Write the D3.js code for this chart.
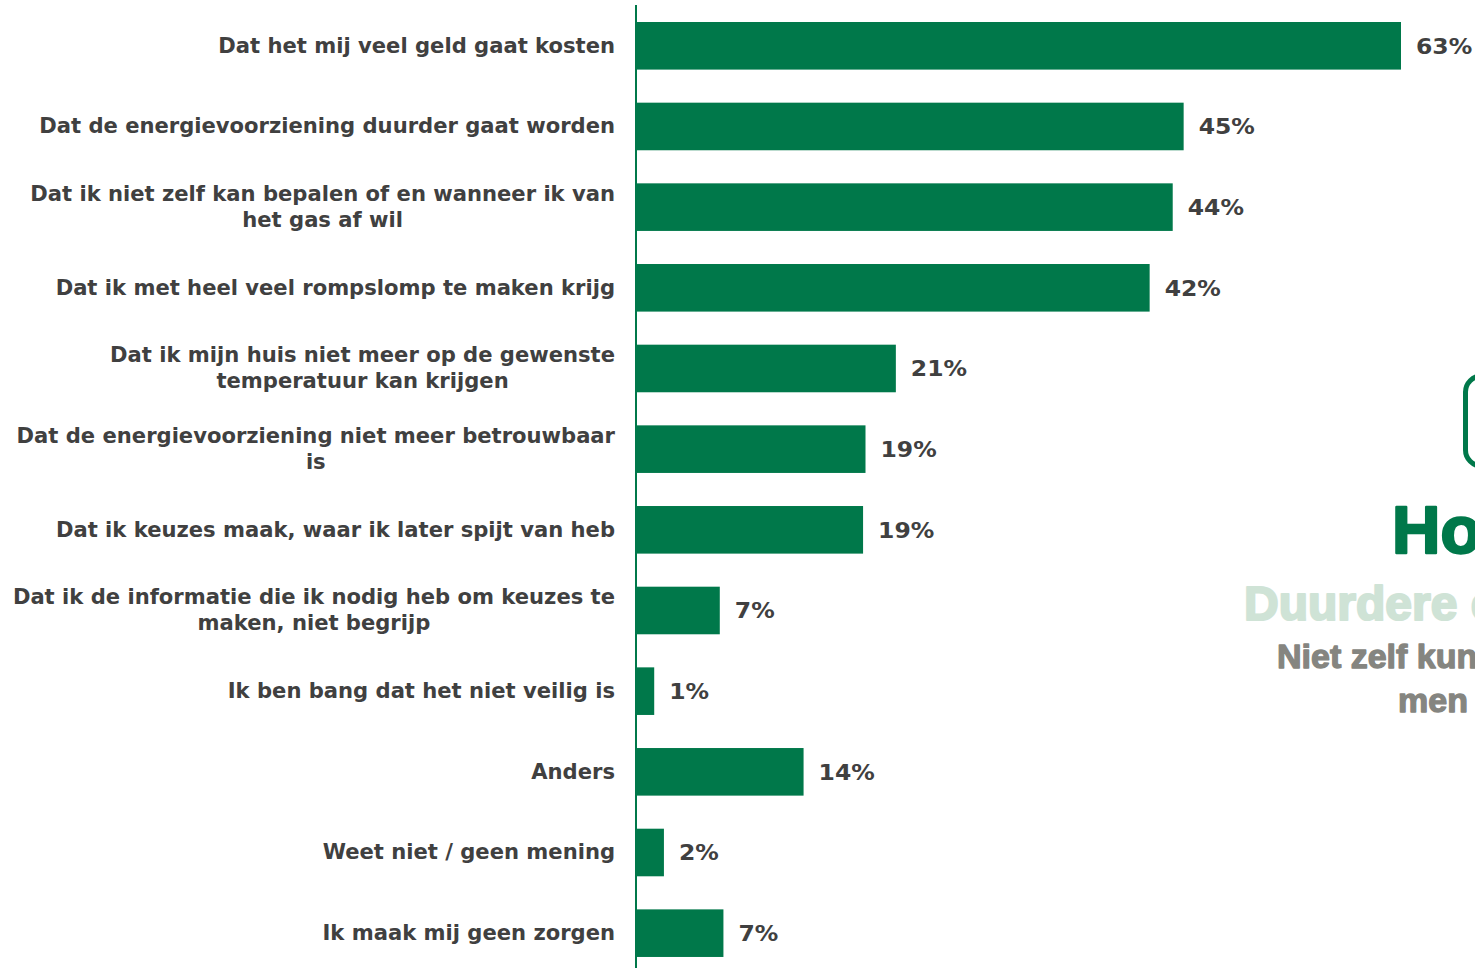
<!DOCTYPE html>
<html>
<head>
<meta charset="utf-8">
<script src="https://cdn.jsdelivr.net/npm/d3@7"></script>
<style>
  html, body { margin: 0; padding: 0; background: #ffffff; overflow: hidden; }
  svg { display: block; }
</style>
</head>
<body>
<svg id="chart" width="1475" height="968"></svg>
<script>
// ---- data ----
const categories = [
  "Dat het mij veel geld gaat kosten",
  "Dat de energievoorziening duurder gaat worden",
  "Dat ik niet zelf kan bepalen of en wanneer ik van het gas af wil",
  "Dat ik met heel veel rompslomp te maken krijg",
  "Dat ik mijn huis niet meer op de gewenste temperatuur kan krijgen",
  "Dat de energievoorziening niet meer betrouwbaar is",
  "Dat ik keuzes maak, waar ik later spijt van heb",
  "Dat ik de informatie die ik nodig heb om keuzes te maken, niet begrijp",
  "Ik ben bang dat het niet veilig is",
  "Anders",
  "Weet niet / geen mening",
  "Ik maak mij geen zorgen"
];
const labelLines = [
  ["Dat het mij veel geld gaat kosten"],
  ["Dat de energievoorziening duurder gaat worden"],
  ["Dat ik niet zelf kan bepalen of en wanneer ik van", "het gas af wil"],
  ["Dat ik met heel veel rompslomp te maken krijg"],
  ["Dat ik mijn huis niet meer op de gewenste", "temperatuur kan krijgen"],
  ["Dat de energievoorziening niet meer betrouwbaar", "is"],
  ["Dat ik keuzes maak, waar ik later spijt van heb"],
  ["Dat ik de informatie die ik nodig heb om keuzes te", "maken, niet begrijp"],
  ["Ik ben bang dat het niet veilig is"],
  ["Anders"],
  ["Weet niet / geen mening"],
  ["Ik maak mij geen zorgen"]
];
const values = [63.0, 45.1, 44.2, 42.3, 21.4, 18.9, 18.7, 6.9, 1.5, 13.8, 2.3, 7.2];
const valueLabels = ["63%", "45%", "44%", "42%", "21%", "19%", "19%", "7%", "1%", "14%", "2%", "7%"];

const sideTitle = "Hoge kosten";
const sideSub1 = "Duurdere energie";
const sideSub2 = ["Niet zelf kunnen", "men"];

// ---- styles ----
const GREEN = "#00784A";
const TEXT = "#404040";

const svg = d3.select("#chart");

const x = d3.scaleLinear().domain([0, 63]).range([636, 1401]);
const step = 80.67;
const padOuter = 0.2;
const y = d3.scaleBand()
  .domain(categories)
  .paddingInner(0.41)
  .paddingOuter(padOuter)
  .range([22 - padOuter * step, 22 - padOuter * step + step * (categories.length - 0.41 + 2 * padOuter)]);

// bars
svg.append("g").selectAll("rect")
  .data(categories)
  .join("rect")
  .attr("x", x(0))
  .attr("y", d => y(d))
  .attr("width", (d, i) => x(values[i]) - x(0))
  .attr("height", y.bandwidth())
  .attr("fill", GREEN);

// axis line
const yAxis = d3.axisLeft(y).tickSize(0).tickFormat("");
const ag = svg.append("g").attr("transform", `translate(${x(0)},0)`).call(yAxis);
ag.select(".domain").remove();
svg.append("line")
  .attr("x1", x(0)).attr("x2", x(0))
  .attr("y1", 5).attr("y2", 968)
  .attr("stroke", GREEN).attr("stroke-width", 2);

// category labels (block right-aligned, lines centered within block)
const lg = svg.append("g")
  .attr("font-family", "'DejaVu Sans', Verdana, sans-serif")
  .attr("font-weight", "bold")
  .attr("font-size", 21.1)
  .attr("fill", TEXT)
  .attr("text-anchor", "middle");
const RIGHT = 615;
categories.forEach((c, i) => {
  const cy = y(c) + y.bandwidth() / 2;
  const lines = labelLines[i];
  const lh = 26;
  const t = lg.append("text");
  const spans = lines.map((ln, j) => t.append("tspan")
      .attr("y", cy + 7 + (j - (lines.length - 1) / 2) * lh)
      .text(ln));
  const maxW = d3.max(spans, s => s.node().getComputedTextLength());
  spans.forEach(s => s.attr("x", RIGHT - maxW / 2));
});

// value labels (slightly widened glyphs)
svg.append("g")
  .attr("font-family", "'DejaVu Sans', Verdana, sans-serif")
  .attr("font-weight", "bold")
  .attr("font-size", 21)
  .attr("fill", TEXT)
  .selectAll("text")
  .data(categories)
  .join("text")
  .attr("transform", (d, i) => `translate(${x(values[i]) + 15},${y(d) + y.bandwidth() / 2 + 8}) scale(1.12,1)`)
  .text((d, i) => valueLabels[i]);

// right side overlay (cut-off slide elements)
svg.append("rect")
  .attr("x", 1465.5).attr("y", 376)
  .attr("width", 120).attr("height", 90)
  .attr("rx", 16).attr("ry", 16)
  .attr("fill", "none")
  .attr("stroke", GREEN)
  .attr("stroke-width", 5);

const side = svg.append("g")
  .attr("font-family", "'Liberation Sans Narrow', 'Liberation Sans', Arial, sans-serif")
  .attr("font-weight", "bold")
  .attr("stroke-linejoin", "round");
side.append("text")
  .attr("x", 1392).attr("y", 553)
  .attr("font-size", 67)
  .attr("fill", GREEN).attr("stroke", GREEN).attr("stroke-width", 2.5)
  .text(sideTitle);
side.append("text")
  .attr("x", 1244).attr("y", 620)
  .attr("font-size", 48)
  .attr("fill", "#CFE3D6").attr("stroke", "#CFE3D6").attr("stroke-width", 2.2)
  .text(sideSub1);
side.append("text")
  .attr("x", 1277).attr("y", 668)
  .attr("font-size", 34)
  .attr("fill", "#858580").attr("stroke", "#858580").attr("stroke-width", 1.3)
  .text(sideSub2[0]);
side.append("text")
  .attr("x", 1398).attr("y", 712)
  .attr("font-size", 34)
  .attr("fill", "#858580").attr("stroke", "#858580").attr("stroke-width", 1.3)
  .text(sideSub2[1]);
</script>
</body>
</html>
